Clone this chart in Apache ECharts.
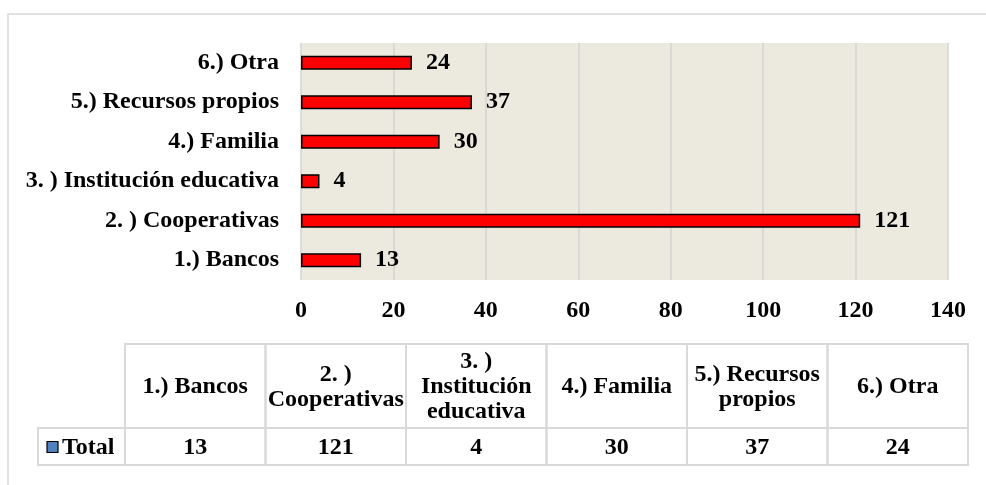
<!DOCTYPE html>
<html>
<head>
<meta charset="utf-8">
<script src="https://cdn.jsdelivr.net/npm/echarts@6.0.0/dist/echarts.min.js"></script>
<style>html,body{margin:0;padding:0;background:#fff;}#c{width:986px;height:485px;}</style>
</head>
<body>
<div id="c"></div>
<script>
const categories = ['1.) Bancos', '2. ) Cooperativas', '3. ) Institución educativa', '4.) Familia', '5.) Recursos propios', '6.) Otra'];
const tableHeaders = ['1.) Bancos', '2. )\nCooperativas', '3. )\nInstitución\neducativa', '4.) Familia', '5.) Recursos\npropios', '6.) Otra'];
const values = [13, 121, 4, 30, 37, 24];
const seriesName = 'Total';
const xTicks = [0, 20, 40, 60, 80, 100, 120, 140];

const FONT = '"Liberation Serif", serif';
const FS = 24;
const TXT = '#000';
const BORDER = '#d9d9d9';

const chart = echarts.init(document.getElementById('c'), null, {renderer: 'canvas'});

function renderCell(params, api) {
  const idx = api.value(0);
  const cs = params.coordSys;
  const center = api.coord([idx, 0])[0];
  const w = api.size([1, 0])[0];
  const x0 = center - w / 2;
  const headerH = cs.height * 84 / 121;
  const dataH = cs.height - headerH;
  const children = [
    {type: 'rect', shape: {x: x0, y: cs.y, width: w, height: headerH}, style: {fill: 'none', stroke: BORDER, lineWidth: 2}},
    {type: 'rect', shape: {x: x0, y: cs.y + headerH, width: w, height: dataH}, style: {fill: 'none', stroke: BORDER, lineWidth: 2}},
    {type: 'text', x: center, y: cs.y + headerH / 2 + 1, style: {text: tableHeaders[idx], align: 'center', verticalAlign: 'middle', font: 'bold ' + FS + 'px ' + FONT, lineHeight: 25, fill: TXT}},
    {type: 'text', x: center, y: cs.y + headerH + dataH / 2 + 1, style: {text: String(api.value(1)), align: 'center', verticalAlign: 'middle', font: 'bold ' + FS + 'px ' + FONT, fill: TXT}}
  ];
  if (idx === 0) {
    const lw = 87;
    const lx = x0 - lw;
    const cy = cs.y + headerH + dataH / 2;
    children.push(
      {type: 'rect', shape: {x: lx, y: cs.y + headerH, width: lw, height: dataH}, style: {fill: 'none', stroke: BORDER, lineWidth: 2}},
      {type: 'rect', shape: {x: lx + 9, y: cy - 5, width: 11, height: 11}, style: {fill: '#4F81BD', stroke: '#000', lineWidth: 1.2}},
      {type: 'text', x: lx + 24, y: cy + 1, style: {text: seriesName, align: 'left', verticalAlign: 'middle', font: 'bold ' + FS + 'px ' + FONT, fill: TXT}}
    );
  }
  return {type: 'group', children: children};
}

const option = {
  animation: false,
  backgroundColor: '#fff',
  graphic: [{type: 'rect', shape: {x: 8, y: 14, width: 1000, height: 500}, style: {fill: 'none', stroke: '#d9d9d9', lineWidth: 1.5}, z: -10}],
  grid: [
    {left: 301, right: 38, top: 43, height: 237, show: true, backgroundColor: '#ECE9DF', borderWidth: 0},
    {left: 125, right: 18, top: 344, height: 121}
  ],
  xAxis: [
    {type: 'value', gridIndex: 0, min: xTicks[0], max: xTicks[xTicks.length - 1], interval: 20,
     axisLine: {show: false}, axisTick: {show: false},
     splitLine: {show: true, lineStyle: {color: '#d3d3d3', width: 1.5}},
     axisLabel: {margin: 19, color: TXT, fontFamily: FONT, fontWeight: 'bold', fontSize: FS}},
    {type: 'category', gridIndex: 1, data: categories, show: false, boundaryGap: true}
  ],
  yAxis: [
    {type: 'category', gridIndex: 0, data: categories,
     axisLine: {show: false}, axisTick: {show: false},
     axisLabel: {margin: 22, color: TXT, fontFamily: FONT, fontWeight: 'bold', fontSize: FS}},
    {type: 'value', gridIndex: 1, min: 0, max: 1, show: false}
  ],
  series: [
    {type: 'bar', name: seriesName, xAxisIndex: 0, yAxisIndex: 0, data: values, barWidth: 14,
     itemStyle: {color: '#FF0000', borderColor: '#000', borderWidth: 1.5},
     label: {show: true, position: 'right', distance: 14, color: TXT, fontFamily: FONT, fontWeight: 'bold', fontSize: FS}},
    {type: 'custom', xAxisIndex: 1, yAxisIndex: 1, renderItem: renderCell,
     data: values.map((v, i) => [i, v])}
  ]
};
chart.setOption(option);
</script>
</body>
</html>
